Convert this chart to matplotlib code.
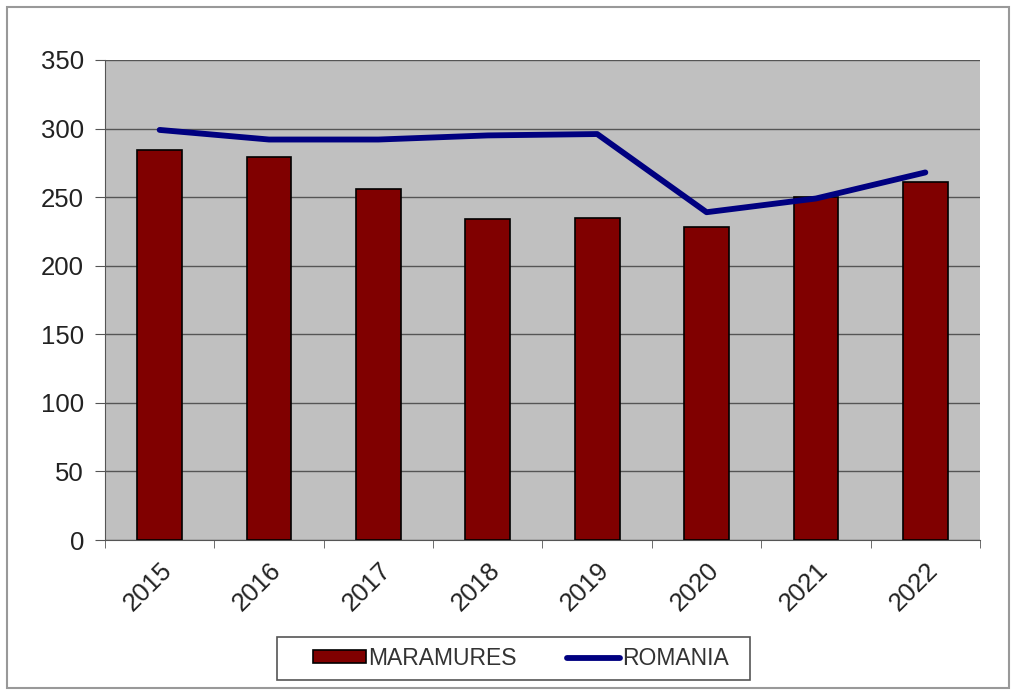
import numpy as np
import matplotlib.pyplot as plt
from matplotlib.patches import Rectangle

years = ['2015', '2016', '2017', '2018', '2019', '2020', '2021', '2022']
maramures = [284, 279, 256, 234, 235, 228, 250, 261]
romania = [299, 292, 292, 295, 296, 239, 249, 268]

plt.rcParams['font.family'] = ['Liberation Sans', 'DejaVu Sans']

fig = plt.figure(figsize=(10.16, 6.95), dpi=100)
# outer chart border
fig.patches.append(Rectangle((0.007, 0.01), 0.986, 0.98, transform=fig.transFigure,
                             fill=False, edgecolor='#999999', linewidth=1.5))
ax = fig.add_axes([0.1033, 0.223, 0.8613, 0.6907])
ax.set_facecolor('#c0c0c0')

x = np.arange(len(years))
bars = ax.bar(x, maramures, width=0.41, color='#800000', edgecolor='black', linewidth=1.2,
              label='MARAMURES', zorder=3)
line, = ax.plot(x, romania, color='#000080', linewidth=4.2, label='ROMANIA', zorder=4,
                solid_capstyle='round')

ax.set_xlim(-0.5, len(years) - 0.5)
ax.set_ylim(0, 350)
ax.set_yticks(range(0, 351, 50))
ax.yaxis.grid(True, color='#555555', linewidth=1, zorder=1)
ax.set_xticks(x)
ax.set_xticklabels(years, rotation=45, ha='right', va='top', rotation_mode='anchor')
ax.set_xticks(np.arange(-0.5, len(years)), minor=True)
ax.tick_params(axis='x', which='major', length=0, labelsize=18.5, pad=13, colors='#222222')
ax.tick_params(axis='x', which='minor', length=6, color='#555555')
ax.tick_params(axis='y', length=7, color='#555555', labelsize=18.5, pad=8, labelcolor='#222222')

for side in ['top', 'right']:
    ax.spines[side].set_visible(False)
ax.spines['left'].set_color('#555555')
ax.spines['bottom'].set_color('#555555')

# legend box drawn separately so its padding matches the original
fig.patches.append(Rectangle((0.2726, 0.0216), 0.4656, 0.0619, transform=fig.transFigure,
                             fill=False, edgecolor='#555555', linewidth=1.2))
leg = fig.legend([bars, line], ['MARAMURES', 'ROMANIA'], loc='center',
                 bbox_to_anchor=(0.513, 0.0525), ncol=2, fontsize=16.5,
                 frameon=False, handlelength=2.3, handleheight=0.5,
                 handletextpad=0.1, columnspacing=2.2, borderpad=0.35)
for t in leg.get_texts():
    t.set_color('#333333')

fig.savefig('out.png', dpi=100)
